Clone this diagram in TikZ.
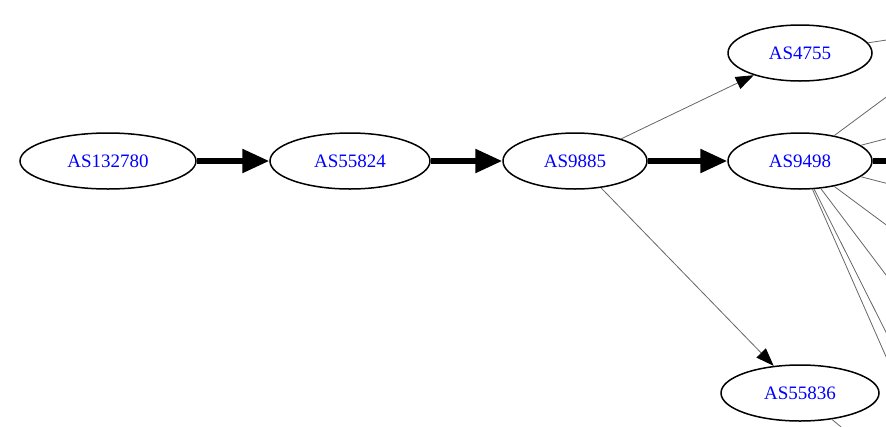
\documentclass[tikz,border=0pt]{standalone}
\usepackage{fontspec}
\setmainfont{Liberation Serif}
\usetikzlibrary{shapes.geometric,arrows.meta}
\begin{document}
\begin{tikzpicture}[x=1pt,y=-1pt,
  asnode/.style={ellipse,draw=black,line width=1.5pt,inner sep=0pt,
    minimum height=56pt,text=blue,font=\fontsize{19}{22}\selectfont},
  mainedge/.style={draw=black,line width=5.5pt,-{Triangle[length=27pt,width=23pt]}},
  mainline/.style={draw=black,line width=5.5pt},
  sideedge/.style={draw=black!60,line width=0.8pt,-{Triangle[length=18pt,width=13pt,color=black]}},
  sideline/.style={draw=black!60,line width=0.8pt}]
\useasboundingbox (0,0) rectangle (886,426);
\clip (0,0) rectangle (886,426);
\node[asnode,minimum width=176pt] (a132780) at (108,161) {AS132780};
\node[asnode,minimum width=160pt] (a55824) at (350,161) {AS55824};
\node[asnode,minimum width=144pt] (a9885) at (575,161) {AS9885};
\node[asnode,minimum width=144pt] (a9498) at (800,161) {AS9498};
\node[asnode,minimum width=144pt] (a4755) at (800,53) {AS4755};
\node[asnode,minimum width=158pt] (a55836) at (800,393) {AS55836};
% off-picture ends
\coordinate (o4755) at (920,35);
\coordinate (o1) at (920,72);
\coordinate (o2) at (920,130);
\coordinate (o3) at (920,161);
\coordinate (o4) at (920,192);
\coordinate (o5) at (920,250);
\coordinate (o6) at (920,320);
\coordinate (o7) at (920,400);
\coordinate (o8) at (920,434);
\coordinate (o55836) at (852,436);
% main path
\draw[mainedge] (a132780) -- (a55824);
\draw[mainedge] (a55824) -- (a9885);
\draw[mainedge] (a9885) -- (a9498);
\draw[mainline] (a9498) -- (o3);
% side edges
\draw[sideedge] (a9885) -- (a4755);
\draw[sideedge] (a9885) -- (a55836);
\draw[sideline] (a4755) -- (o4755);
\draw[sideline] (a9498) -- (o1);
\draw[sideline] (a9498) -- (o2);
\draw[sideline] (a9498) -- (o4);
\draw[sideline] (a9498) -- (o5);
\draw[sideline] (a9498) -- (o6);
\draw[sideline] (a9498) -- (o7);
\draw[sideline] (a9498) -- (o8);
\draw[sideline] (a55836) -- (o55836);
\end{tikzpicture}
\end{document}
